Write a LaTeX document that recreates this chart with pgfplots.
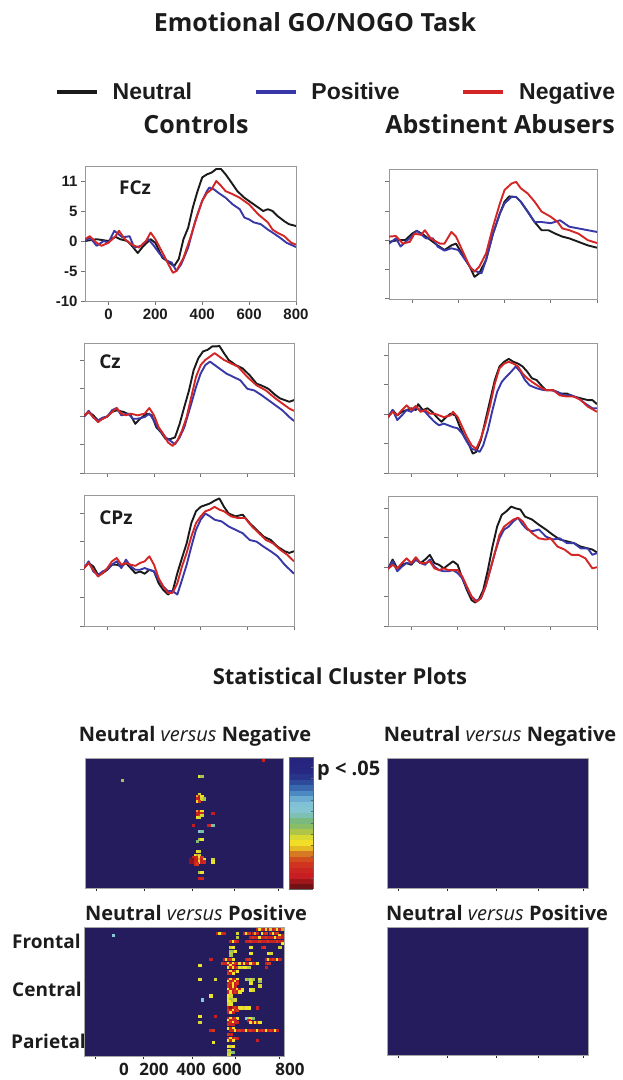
\documentclass[border=0pt]{standalone}
\usepackage{fontspec}
\setmainfont{Open Sans}
\newfontfamily\arial{Liberation Sans}
\usepackage{pgfplots}
\pgfplotsset{compat=1.18}
\newcommand\fs[1]{\fontsize{#1}{#1}\selectfont}
\definecolor{ncol}{HTML}{1A1A1A}
\definecolor{pcol}{HTML}{3838A8}
\definecolor{gcol}{HTML}{D42626}
\definecolor{hmnavy}{HTML}{251C5E}
\definecolor{txt}{HTML}{1C1C1C}

\pgfplotsset{
  colormap={pval}{rgb255=(90,15,20) rgb255=(150,20,25) rgb255=(200,30,35) rgb255=(205,40,35)
    rgb255=(210,60,30) rgb255=(210,110,35) rgb255=(230,190,35) rgb255=(245,235,40)
    rgb255=(190,200,60) rgb255=(140,190,100) rgb255=(120,185,130) rgb255=(130,195,205)
    rgb255=(135,200,215) rgb255=(110,175,210) rgb255=(70,130,190) rgb255=(50,90,165)
    rgb255=(40,55,140) rgb255=(38,40,130) rgb255=(38,38,128) rgb255=(38,36,125)},
  erp/.style={
    scale only axis, anchor=south west,
    xmin=-100, xmax=800, ymin=-10,
    xtick={0,200,400,600,800}, ytick={-10,-5,0,5,10},
    xticklabels={}, yticklabels={},
    tick pos=left, tick align=outside, major tick length=4pt,
    axis line style={draw=black!40, line width=0.8pt},
    tick style={draw=black!55, line width=0.8pt},
    tick label style={font=\arial\bfseries\fs{15}, text=txt},
    every axis plot/.append style={line width=1.9pt, line join=round},
  },
  hmap/.style={
    scale only axis, anchor=south west,
    xmin=0, xmax=90, ymin=0, ymax=64, y dir=reverse,
    axis background/.style={fill=hmnavy},
    axis line style={draw=black!35, line width=0.6pt},
    xtick={5,27,49,68,88}, xticklabels={}, ytick=\empty,
    tick pos=left, tick align=outside, major tick length=2.5pt,
    tick style={draw=black!85, line width=1pt},
    point meta min=0, point meta max=1, colormap name=pval,
  },
  hmcells/.style={
    scatter, only marks, mark=square*, mark size=1.15pt,
    scatter/use mapped color={draw=mapped color, fill=mapped color},
    mark options={line width=0.1pt, yscale=0.95},
    point meta=explicit,
  },
}

\begin{document}
\begin{tikzpicture}
\path[use as bounding box] (0,0) rectangle (622pt,1080pt);

% ---------------- Controls FCz
\begin{axis}[erp, at={(85pt,779pt)}, width=211pt, height=135pt, ymax=12.5,
  xticklabels={0,200,400,600,800}, yticklabels={-10,-5,0,5,11},
  legend style={at={(axis description cs:-0.142,1.548)}, anchor=west, draw=none, fill=none,
    legend columns=3, font=\arial\bfseries\fs{23}, text=txt, inner sep=0pt, column sep=0pt,
    /tikz/every odd column/.append style={column sep=12pt},
    /tikz/every even column/.append style={column sep=60pt}},
  legend image code/.code={\draw[#1, line width=3.5pt] (0pt,0pt) -- (40pt,0pt);}]
\addplot[ncol] coordinates {(-100,0)(-50,0.3)(0,0)(30,0.7)(50,0.3)(80,0)(100,-0.8)(125,-2)(150,-0.8)(180,0.3)(200,-0.3)(230,-2.8)(260,-3.6)(280,-4.2)(300,-3)(320,0.3)(340,2.2)(360,5.6)(380,8.3)(400,10.6)(420,11.1)(440,11.4)(460,12)(480,12)(500,11.1)(520,10)(550,8.3)(580,7.2)(620,6.1)(660,5)(680,5.3)(700,5)(720,4.2)(750,3.3)(770,2.8)(800,2.5)};
\addplot[pcol] coordinates {(-100,0)(-80,0.6)(-50,-0.8)(-20,0)(0,-0.3)(25,1.7)(60,0.6)(90,0.8)(110,-1.1)(140,-0.8)(170,0.3)(190,-0.6)(220,-2.2)(250,-3.3)(270,-3.6)(290,-5)(310,-3.9)(340,-1.1)(370,3.3)(400,6.7)(420,8.3)(430,8.9)(450,8.6)(470,8)(500,7.2)(530,6.1)(560,5.3)(580,3.9)(600,3.6)(620,3.1)(650,2.8)(680,1.9)(700,1.4)(730,0.6)(760,-0.3)(800,-1)};
\addplot[gcol] coordinates {(-100,0.3)(-80,0.8)(-50,-0.3)(-30,-0.8)(0,-0.3)(30,0.8)(45,1.7)(70,0.3)(100,-0.6)(130,-1.1)(160,0)(180,1.4)(200,0.3)(230,-1.9)(260,-4.2)(275,-5.3)(290,-5)(320,-2.8)(350,0.6)(380,4.4)(400,6.7)(420,8)(440,8.6)(460,10)(480,9.2)(500,8.3)(530,7.8)(560,7.2)(600,6.1)(640,4.4)(680,3.1)(700,1.9)(720,1.4)(750,0.8)(780,-0.3)(800,-0.6)};
\legend{Neutral,Positive,Negative}
\end{axis}

% ---------------- Abusers FCz
\begin{axis}[erp, at={(389pt,781pt)}, width=208pt, height=130pt, ymin=-10.1, ymax=12.2]
\addplot[ncol] coordinates {(-100,-0.3)(-60,0)(-30,0)(0,1.1)(20,1.6)(50,0.9)(80,0)(110,-0.9)(140,-1.7)(170,-0.9)(190,-0.6)(220,-2.6)(250,-4.6)(270,-6.3)(290,-5.7)(320,-3.4)(350,1.1)(380,4.6)(400,6.6)(420,7.5)(450,7.4)(470,6.6)(500,4.9)(530,3.1)(560,1.7)(590,1.7)(620,1.1)(650,0.6)(680,0.3)(720,-0.3)(760,-0.9)(800,-1.3)};
\addplot[pcol] coordinates {(-100,-0.6)(-70,0.3)(-50,-1.1)(-20,0)(0,0.7)(20,1.6)(60,0.3)(90,0.3)(110,-1.1)(140,-1.8)(170,-1.4)(200,-1.7)(230,-3.4)(260,-5.1)(280,-5.4)(300,-5.7)(320,-3.4)(350,1.1)(380,4.6)(400,6.3)(430,7.4)(450,7.4)(470,6.6)(500,4.9)(530,3.1)(560,3.1)(600,2.9)(640,3.4)(680,2.3)(720,2)(760,1.7)(800,1.4)};
\addplot[gcol] coordinates {(-100,0.6)(-70,0.7)(-40,-0.6)(-10,-0.3)(10,1.1)(40,0.9)(55,1.7)(80,0.3)(120,-0.6)(140,-0.6)(170,1.4)(190,0.6)(220,-2)(250,-4.6)(270,-5.4)(290,-4.6)(320,-2.3)(350,2.3)(380,6.3)(400,8.6)(430,9.7)(450,10)(470,8.9)(500,8)(530,6.6)(560,4.9)(600,4)(630,3.1)(650,2)(680,1.7)(720,1.1)(760,0)(800,-0.5)};
\end{axis}

% ---------------- Controls Cz
\begin{axis}[erp, at={(84pt,607pt)}, width=210pt, height=130pt, ymax=13]
\addplot[ncol] coordinates {(-100,0)(-80,0.8)(-60,0.2)(-40,-0.7)(-20,-0.4)(0,0)(20,0.8)(40,1.1)(70,0.8)(100,0.2)(120,-1.3)(140,-0.4)(170,0.5)(190,0.2)(210,-1.9)(230,-2.8)(250,-4)(270,-4)(290,-3.7)(310,-1.3)(330,1.7)(350,4.6)(370,8.2)(390,10.3)(410,11.5)(430,11.8)(450,12.4)(470,12.4)(480,12.5)(500,11.2)(520,10)(550,9.1)(580,8.5)(610,7.3)(640,5.8)(660,5.5)(690,4.9)(720,3.8)(740,3.2)(760,2.9)(780,2.6)(800,2.9)};
\addplot[pcol] coordinates {(-100,0)(-80,1)(-60,-0.2)(-40,-0.7)(-20,-0.2)(0,0)(20,1.1)(40,1.5)(60,0.2)(90,0.5)(110,-0.4)(130,-0.4)(160,-0.1)(180,0.5)(200,-0.7)(220,-2.2)(250,-3.7)(270,-4.3)(290,-4.9)(310,-3.7)(330,-1.9)(360,2.3)(380,5.2)(400,7.6)(420,9.1)(440,9.7)(460,9.1)(480,8.5)(510,7.6)(540,7)(570,6.4)(600,4.9)(630,4.6)(660,3.8)(690,2.9)(720,2)(750,1.1)(780,-0.1)(800,-0.8)};
\addplot[gcol] coordinates {(-100,0.2)(-80,0.8)(-60,-0.1)(-40,-1)(-20,-0.4)(0,0)(20,0.8)(40,1.5)(60,0.5)(80,0.2)(100,0.5)(130,0.2)(160,0.5)(180,1.5)(200,0.2)(220,-1.9)(240,-3.1)(260,-4.6)(280,-5.2)(300,-4.3)(320,-2.5)(340,-0.1)(360,3.5)(380,7)(400,9.1)(420,10)(440,10.6)(460,11.2)(480,10.6)(500,10)(530,9.4)(560,8.8)(600,7)(640,5.5)(680,4.6)(720,3.2)(760,2)(780,1.4)(800,1)};
\end{axis}

% ---------------- Abusers Cz
\begin{axis}[erp, at={(388pt,607pt)}, width=209pt, height=130pt, ymax=12.1]
\addplot[ncol] coordinates {(-100,-0.5)(-80,0.7)(-60,-0.2)(-40,0.4)(-20,0.7)(0,1)(20,0.7)(30,1.7)(50,0.7)(70,1)(90,0.4)(110,-0.5)(130,-1.3)(150,-0.5)(170,0.1)(190,-0.2)(210,-2.2)(230,-3.9)(250,-5.3)(265,-6.7)(280,-6.4)(300,-4.4)(320,-1)(340,2.4)(360,5.8)(380,8.1)(400,8.9)(420,9.4)(440,8.9)(460,8.6)(480,8.1)(500,7.2)(520,6.1)(540,5.8)(560,4.9)(580,4.1)(610,4.1)(640,3.5)(670,3.5)(700,3)(730,2.7)(760,2.4)(780,2.4)(800,1.7)};
\addplot[pcol] coordinates {(-100,-0.6)(-80,0.7)(-60,-1)(-40,-0.2)(-20,0.7)(0,0.4)(20,1.1)(40,0.7)(60,0.4)(80,-0.5)(100,-1.3)(120,-1.9)(140,-1.6)(160,-1.9)(180,-2.2)(200,-2.4)(220,-3.3)(240,-4.7)(260,-5.9)(280,-6.1)(295,-6.4)(310,-5.3)(330,-2.7)(350,0.7)(370,3.8)(390,5.5)(410,6.4)(430,7.2)(450,8.1)(470,7.2)(490,5.8)(510,4.9)(540,4.4)(570,4.1)(600,4.1)(630,3.8)(660,3.2)(690,3.2)(720,2.7)(750,1.8)(780,1)(800,1)};
\addplot[gcol] coordinates {(-100,-0.5)(-80,0.4)(-60,-0.2)(-40,0.7)(-20,1.5)(0,0.7)(20,1.4)(40,0.4)(60,0.7)(80,0.1)(100,0.1)(120,-0.2)(140,-0.5)(170,-0.2)(180,0.4)(200,-0.5)(220,-2.2)(240,-3.9)(260,-5.3)(280,-5.9)(300,-4.1)(320,-1.6)(340,1.5)(360,5.2)(380,7.8)(400,8.6)(420,8.9)(440,8.6)(460,8.1)(480,6.9)(500,6.1)(520,5.5)(550,4.7)(580,4.1)(610,4.1)(640,3.2)(670,3)(700,3)(730,2.4)(760,1.3)(800,0.4)};
\end{axis}

% ---------------- Controls CPz
\begin{axis}[erp, at={(84pt,454pt)}, width=210pt, height=131pt, ymax=13.3]
\addplot[ncol] coordinates {(-100,0.3)(-80,1.2)(-60,0.6)(-40,-0.9)(-20,-0.6)(0,0)(20,0.9)(40,0.9)(60,0.6)(80,1.2)(100,0.3)(120,-0.6)(140,-0.3)(160,-0.7)(180,0)(200,-0.3)(220,-2.4)(240,-3.6)(260,-4.4)(280,-3.8)(300,-0.6)(320,2.1)(340,4.7)(360,8.3)(380,10.4)(400,11.2)(420,11.5)(440,11.8)(460,12.3)(480,12.7)(500,11.2)(520,10)(550,9.5)(580,9.8)(610,8.3)(640,7.1)(670,5.9)(700,5.3)(730,4.1)(760,3.3)(780,3)(800,3.3)};
\addplot[pcol] coordinates {(-100,0.3)(-80,1.5)(-60,-0.3)(-40,-0.9)(-20,-0.3)(0,0.1)(20,0.9)(40,1.5)(60,0.3)(80,1.8)(100,0.6)(120,0)(140,0)(160,0.3)(180,0)(200,-0.3)(220,-1.8)(240,-3)(260,-3.8)(280,-3.8)(300,-4.4)(320,-1.8)(340,0.9)(360,4.1)(380,7.1)(400,8.9)(420,10)(440,9.5)(460,8.9)(490,8.6)(520,7.7)(550,7.1)(580,6.5)(610,5.3)(640,5)(670,4.1)(700,3.3)(730,2.4)(760,0.9)(800,-0.7)};
\addplot[gcol] coordinates {(-100,0.3)(-80,1.2)(-60,0)(-40,-1.2)(-20,-0.6)(0,0.3)(20,1.5)(40,2.1)(60,0.9)(80,1.2)(100,0.9)(120,0.7)(140,1.2)(160,1.5)(180,2.4)(200,0.9)(220,-1.5)(240,-3)(260,-4.1)(280,-4.1)(300,-2.4)(320,0.6)(340,3)(360,5.9)(380,8.3)(400,9.5)(420,10.4)(440,10.7)(460,11.2)(480,10.7)(500,10.4)(530,9.5)(560,9.2)(590,9.2)(620,7.7)(650,6.5)(680,5.3)(710,4.7)(740,3.6)(770,2.7)(800,1.5)};
\end{axis}

% ---------------- Abusers CPz
\begin{axis}[erp, at={(388pt,454pt)}, width=209pt, height=130pt, ymax=12.1]
\addplot[ncol] coordinates {(-100,-0.3)(-80,1.3)(-60,-0.2)(-40,0.4)(-20,0.7)(0,0.4)(20,1.3)(40,0.7)(60,1.3)(80,2.1)(100,0.7)(120,0.4)(140,-0.2)(160,0.4)(180,1)(200,0.4)(220,-1.9)(240,-3.9)(260,-5.6)(275,-6)(290,-5.6)(310,-3.9)(330,-0.5)(350,3.5)(370,6.9)(390,8.9)(410,9.5)(430,10.3)(450,10)(470,9.8)(490,8.6)(520,8.1)(550,7.2)(580,6.4)(610,5.5)(640,4.7)(670,4.4)(700,4.1)(730,3.5)(760,3.2)(780,3)(800,2.5)};
\addplot[pcol] coordinates {(-100,-0.3)(-80,1)(-60,-0.7)(-40,0.1)(-20,0.7)(0,0.6)(20,1.3)(40,0.7)(60,0.4)(80,1.3)(100,0.1)(120,-0.5)(140,-0.7)(160,-0.7)(180,-0.5)(200,-1)(220,-1.9)(240,-3.6)(260,-5)(280,-5.7)(300,-5.3)(320,-3.3)(340,-0.5)(360,2.4)(380,4.9)(400,6.4)(420,6.9)(440,7.8)(460,8.4)(480,7.2)(500,6.4)(520,6.1)(550,6.4)(580,5.2)(610,4.7)(640,4.9)(670,4.1)(700,4.1)(730,3.2)(760,3.2)(780,2.1)(800,2.4)};
\addplot[gcol] coordinates {(-100,-0.3)(-80,0.4)(-60,-0.2)(-40,0.7)(-20,1.5)(0,0.7)(20,1.7)(40,0.7)(60,0.7)(80,1)(100,-0.2)(120,-0.5)(140,-0.2)(160,-0.5)(180,-0.5)(200,-0.5)(220,-1.6)(240,-3.3)(260,-5)(280,-5.9)(300,-5.3)(320,-3.3)(340,-0.5)(360,2.4)(380,5.5)(400,6.9)(420,7.5)(440,8.1)(460,8.4)(480,7.8)(500,6.6)(520,5.8)(550,4.9)(580,4.7)(600,4.9)(630,3.5)(660,3)(690,2.1)(720,2.1)(750,1.5)(780,-0.2)(800,0)};
\end{axis}

% ---------------- cluster plot: Controls, Neutral vs Negative (with p colour bar)
\begin{axis}[hmap, at={(85pt,192pt)}, width=198pt, height=130pt,
  colorbar sampled,
  colorbar style={scale only axis, width=24pt, height=132pt, samples=25,
    at={(parent axis.north east)}, anchor=north west, xshift=-2.5pt, yshift=1pt,
    ytick={0.083,0.167,...,0.95}, yticklabels={}, ytick pos=right,
    tick align=inside, major tick length=2pt,
    axis line style={draw=black!60}, tick style={draw=black!60}}]
\addplot[hmcells] table[meta=p] {
x y p
17 11 0.45
81 1 0.12
52 9 0.38
53 9 0.45
52 18 0.40
51 19 0.30
52 19 0.12
53 19 0.35
51 20 0.15
52 20 0.10
53 20 0.40
54 20 0.45
51 21 0.35
52 21 0.20
51 26 0.30
52 26 0.12
53 26 0.35
51 27 0.12
52 27 0.10
53 27 0.15
58 27 0.10
51 28 0.10
52 28 0.20
53 28 0.40
51 29 0.35
52 29 0.40
49 33 0.10
56 33 0.12
57 33 0.15
58 33 0.55
52 36 0.62
53 36 0.55
52 40 0.45
53 40 0.38
51 41 0.50
51 46 0.35
52 46 0.40
50 48 0.35
51 48 0.30
52 48 0.40
49 49 0.12
50 49 0.10
51 49 0.15
52 49 0.38
53 49 0.20
48 50 0.05
49 50 0.03
50 50 0.10
51 50 0.12
52 50 0.30
53 50 0.12
54 50 0.38
58 50 0.40
48 51 0.05
49 51 0.05
50 51 0.12
51 51 0.10
52 51 0.35
53 51 0.12
54 51 0.15
58 51 0.38
50 52 0.15
51 52 0.20
52 56 0.45
53 56 0.38
52 59 0.12
53 59 0.15
};
\end{axis}

% ---------------- cluster plot: Controls, Neutral vs Positive
\begin{axis}[hmap, at={(84pt,24pt)}, width=200pt, height=129pt]
\addplot[hmcells] table[meta=p] {
x y p
13 4 0.62
78 1 0.12
79 1 0.36
80 1 0.20
81 1 0.12
82 1 0.36
83 1 0.12
84 1 0.40
85 1 0.12
86 1 0.20
87 1 0.36
88 1 0.12
89 1 0.30
60 3 0.12
61 3 0.36
62 3 0.20
63 3 0.12
69 3 0.40
72 3 0.12
73 3 0.36
74 3 0.20
76 3 0.12
77 3 0.30
78 3 0.12
80 3 0.36
81 3 0.12
82 3 0.20
84 3 0.12
85 3 0.36
86 3 0.12
87 3 0.20
88 4 0.36
89 4 0.12
69 5 0.42
75 5 0.12
76 5 0.20
77 5 0.12
78 5 0.12
79 5 0.36
80 5 0.12
81 5 0.12
82 5 0.20
83 5 0.12
84 5 0.12
85 5 0.12
86 5 0.36
87 5 0.12
88 5 0.20
89 5 0.12
66 7 0.12
67 7 0.36
68 7 0.20
69 7 0.12
73 7 0.12
74 7 0.12
75 7 0.20
76 7 0.12
77 7 0.12
78 7 0.12
79 7 0.20
80 7 0.12
81 7 0.12
82 7 0.12
83 7 0.20
84 7 0.12
85 7 0.12
86 7 0.12
87 7 0.20
88 7 0.12
89 7 0.12
89 8 0.36
66 10 0.40
67 10 0.36
75 10 0.38
80 10 0.12
81 10 0.20
88 10 0.40
66 12 0.45
67 12 0.48
68 12 0.36
66 13 0.42
75 13 0.38
83 13 0.36
84 13 0.40
66 14 0.45
57 16 0.12
63 16 0.12
64 16 0.36
65 16 0.12
66 16 0.20
67 16 0.36
73 16 0.12
74 16 0.20
82 16 0.12
83 16 0.36
84 16 0.12
85 16 0.20
86 16 0.12
87 16 0.36
88 16 0.12
62 18 0.20
63 18 0.12
64 18 0.12
65 18 0.36
66 18 0.12
67 18 0.36
68 18 0.20
69 18 0.12
70 18 0.36
71 18 0.12
72 18 0.36
73 18 0.12
74 18 0.12
75 18 0.36
76 18 0.20
77 18 0.12
78 18 0.36
82 18 0.12
83 18 0.20
52 19 0.38
65 19 0.12
66 19 0.36
67 19 0.12
65 20 0.36
66 20 0.12
67 20 0.36
68 20 0.12
69 20 0.20
70 20 0.38
71 20 0.40
72 20 0.36
73 20 0.38
74 20 0.42
82 20 0.12
65 22 0.12
66 22 0.36
67 22 0.12
68 22 0.20
69 22 0.36
65 23 0.20
66 23 0.12
67 23 0.36
52 26 0.38
59 26 0.40
65 26 0.12
66 26 0.36
67 26 0.12
68 26 0.12
69 26 0.36
73 26 0.42
74 26 0.50
75 26 0.40
76 26 0.45
79 26 0.38
65 27 0.36
66 27 0.12
67 27 0.20
68 27 0.36
69 27 0.12
75 27 0.40
79 27 0.45
65 28 0.12
66 28 0.20
67 28 0.36
68 28 0.12
69 28 0.20
75 28 0.38
65 29 0.20
66 29 0.12
67 29 0.36
68 29 0.12
79 29 0.40
65 31 0.36
66 31 0.12
67 31 0.20
68 31 0.12
69 31 0.36
70 31 0.12
71 31 0.36
75 31 0.38
76 31 0.40
65 32 0.12
66 32 0.36
67 32 0.12
68 32 0.20
69 32 0.12
70 32 0.38
57 34 0.38
65 34 0.36
66 34 0.40
53 36 0.62
65 36 0.38
66 36 0.45
67 36 0.42
68 36 0.40
65 37 0.36
65 38 0.40
66 38 0.38
65 40 0.12
66 40 0.04
67 40 0.12
68 40 0.20
69 40 0.12
70 40 0.38
71 40 0.36
72 40 0.40
73 40 0.38
74 40 0.36
78 40 0.12
65 41 0.20
66 41 0.12
67 41 0.36
68 41 0.12
69 41 0.20
65 42 0.12
66 42 0.36
67 42 0.12
52 44 0.38
59 44 0.12
65 45 0.12
66 45 0.36
67 45 0.12
68 45 0.20
69 45 0.36
73 45 0.60
74 45 0.42
75 45 0.38
76 45 0.50
65 46 0.36
66 46 0.12
67 46 0.20
68 46 0.12
74 46 0.12
52 47 0.40
65 47 0.12
66 47 0.20
67 47 0.36
68 47 0.12
69 47 0.12
75 47 0.38
76 47 0.12
77 47 0.36
78 47 0.20
79 47 0.38
65 48 0.20
66 48 0.12
67 48 0.12
65 50 0.36
66 50 0.12
67 50 0.36
57 51 0.12
58 51 0.20
66 51 0.12
67 51 0.12
68 51 0.36
69 51 0.12
70 51 0.20
71 51 0.12
72 51 0.12
73 51 0.36
74 51 0.12
75 51 0.20
76 51 0.12
77 51 0.12
78 51 0.36
79 51 0.12
80 51 0.20
81 51 0.12
82 51 0.36
83 51 0.12
84 51 0.20
85 51 0.12
86 51 0.36
87 51 0.12
65 53 0.20
66 53 0.12
65 55 0.12
66 55 0.36
67 55 0.12
68 55 0.20
69 55 0.12
65 56 0.36
66 56 0.12
67 56 0.36
78 56 0.12
58 57 0.38
65 59 0.38
66 59 0.40
67 59 0.36
65 61 0.40
65 62 0.45
66 62 0.42
67 62 0.50
65 63 0.40
};
\end{axis}

% ---------------- cluster plots: Abstinent Abusers (no significant clusters)
\begin{axis}[hmap, at={(387pt,192pt)}, width=201pt, height=130pt]
\end{axis}
\begin{axis}[hmap, at={(387pt,25pt)}, width=201pt, height=128pt]
\end{axis}

% ---------------- text
\begin{scope}[every node/.style={text=txt, inner sep=0pt}]
\node[font=\bfseries\fs{25}] at (315pt,1058pt) {Emotional GO/NOGO Task};
\node[font=\bfseries\fs{25}] at (196pt,956pt) {Controls};
\node[font=\bfseries\fs{25}] at (500pt,956pt) {Abstinent Abusers};
\node[font=\bfseries\fs{19}] at (135pt,892pt) {FCz};
\node[font=\bfseries\fs{19}] at (110pt,718pt) {Cz};
\node[font=\bfseries\fs{19}] at (116pt,562pt) {CPz};
\node[font=\bfseries\fs{22}] at (340pt,404pt) {Statistical Cluster Plots};
\node[font=\bfseries\fs{20}] at (195pt,344pt) {Neutral \textmd{\itshape versus} Negative};
\node[font=\bfseries\fs{20}] at (500pt,344pt) {Neutral \textmd{\itshape versus} Negative};
\node[font=\bfseries\fs{20}] at (196pt,167pt) {Neutral \textmd{\itshape versus} Positive};
\node[font=\bfseries\fs{20}] at (497pt,167pt) {Neutral \textmd{\itshape versus} Positive};
\node[font=\bfseries\fs{20}, anchor=west] at (317pt,309pt) {p < .05};
\node[font=\bfseries\fs{19}, anchor=west] at (12pt,139pt) {Frontal};
\node[font=\bfseries\fs{19}, anchor=west] at (12pt,91pt) {Central};
\node[font=\bfseries\fs{19}, anchor=west] at (11pt,39pt) {Parietal};
\node[font=\bfseries\fs{17}] at (124pt,11pt) {0};
\node[font=\bfseries\fs{17}] at (154pt,11pt) {200};
\node[font=\bfseries\fs{17}] at (191pt,11pt) {400};
\node[font=\bfseries\fs{17}] at (227pt,11pt) {600};
\node[font=\bfseries\fs{17}] at (290pt,11pt) {800};
\end{scope}
\end{tikzpicture}
\end{document}
